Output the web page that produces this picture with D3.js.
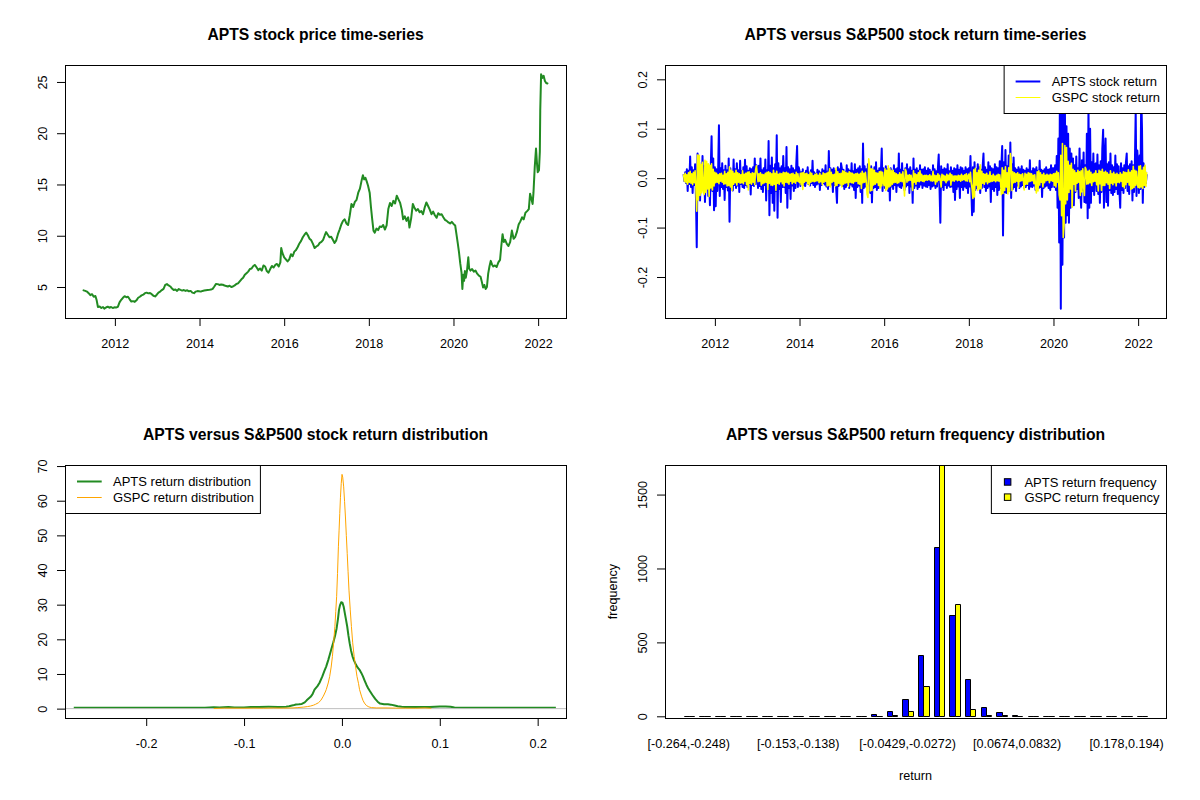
<!DOCTYPE html>
<html lang="en">
<head>
  <meta charset="UTF-8">
  <title>APTS versus S&amp;P500</title>
  <script src="https://d3js.org/d3.v7.min.js"></script>
  <style>
    body { margin: 0; background: #fff; }
    svg { display: block; background: #fff; }
  </style>
</head>
<body>
  <script>
    const FONT = '"Liberation Sans", Arial, Helvetica, sans-serif';

    // ---------- data ----------
    // APTS closing price, [decimal year, price]
    const aptsPrice = [
      [2011.26,4.67],[2011.30,4.62],[2011.34,4.55],[2011.38,4.40],[2011.42,4.20],[2011.46,4.30],[2011.50,4.05],
      [2011.54,4.12],[2011.57,3.70],[2011.60,3.05],[2011.64,3.10],[2011.68,2.95],[2011.72,3.05],[2011.75,2.89],
      [2011.79,3.00],[2011.83,3.08],[2011.87,2.98],[2011.91,3.05],[2011.95,2.95],[2011.99,3.02],[2012.03,3.00],
      [2012.07,3.06],[2012.11,3.50],[2012.15,3.75],[2012.19,3.95],[2012.23,4.10],[2012.27,4.00],[2012.31,4.05],
      [2012.35,3.80],[2012.39,3.58],[2012.43,3.62],[2012.47,3.55],[2012.51,3.70],[2012.55,3.95],[2012.59,4.05],
      [2012.63,4.18],[2012.67,4.25],[2012.71,4.40],[2012.75,4.45],[2012.79,4.38],[2012.83,4.42],[2012.87,4.30],
      [2012.91,4.15],[2012.95,4.08],[2012.99,4.25],[2013.03,4.45],[2013.07,4.55],[2013.11,4.70],[2013.15,4.82],
      [2013.19,5.20],[2013.23,5.28],[2013.27,5.15],[2013.31,5.05],[2013.35,4.85],[2013.39,4.70],[2013.43,4.75],
      [2013.47,4.62],[2013.51,4.80],[2013.55,4.72],[2013.59,4.65],[2013.63,4.70],[2013.67,4.62],[2013.71,4.68],
      [2013.75,4.58],[2013.79,4.62],[2013.83,4.45],[2013.87,4.40],[2013.91,4.55],[2013.95,4.60],[2013.99,4.58],
      [2014.03,4.55],[2014.07,4.62],[2014.11,4.65],[2014.15,4.68],[2014.19,4.70],[2014.23,4.72],[2014.27,4.75],
      [2014.31,4.82],[2014.35,5.05],[2014.39,5.30],[2014.43,5.28],[2014.47,5.20],[2014.51,5.25],[2014.55,5.22],
      [2014.59,5.15],[2014.63,5.10],[2014.67,5.05],[2014.71,5.12],[2014.75,5.00],[2014.79,5.05],[2014.83,5.15],
      [2014.87,5.30],[2014.91,5.35],[2014.95,5.55],[2014.99,5.75],[2015.03,5.90],[2015.07,6.20],[2015.11,6.35],
      [2015.15,6.50],[2015.19,6.75],[2015.23,6.80],[2015.27,7.05],[2015.31,7.15],[2015.35,6.90],[2015.39,6.65],
      [2015.43,6.80],[2015.47,6.60],[2015.51,7.10],[2015.55,7.00],[2015.59,6.55],[2015.63,6.40],[2015.67,6.75],
      [2015.71,7.05],[2015.75,6.90],[2015.79,7.15],[2015.83,7.25],[2015.87,7.00],[2015.91,7.40],[2015.93,8.80],
      [2015.96,8.30],[2016.00,7.90],[2016.04,7.70],[2016.08,7.50],[2016.12,7.70],[2016.16,8.20],[2016.20,8.00],
      [2016.24,8.45],[2016.28,8.60],[2016.32,8.90],[2016.36,9.25],[2016.40,9.50],[2016.44,9.85],[2016.48,10.10],
      [2016.52,10.30],[2016.56,10.05],[2016.60,9.70],[2016.64,9.55],[2016.68,9.20],[2016.72,8.80],[2016.76,8.95],
      [2016.80,9.05],[2016.84,9.30],[2016.88,9.40],[2016.92,9.60],[2016.96,10.05],[2016.99,10.35],[2017.03,10.10],
      [2017.07,9.85],[2017.11,9.90],[2017.15,9.60],[2017.19,9.30],[2017.23,9.55],[2017.27,10.15],[2017.31,10.60],
      [2017.35,11.10],[2017.39,11.45],[2017.43,11.60],[2017.47,11.20],[2017.51,11.05],[2017.55,12.00],[2017.59,13.10],
      [2017.63,12.80],[2017.67,13.30],[2017.71,13.50],[2017.75,14.20],[2017.79,14.60],[2017.83,15.40],[2017.86,15.90],
      [2017.89,15.50],[2017.92,15.65],[2017.95,15.30],[2017.98,14.90],[2018.02,14.20],[2018.05,12.80],[2018.08,11.60],
      [2018.11,10.50],[2018.14,10.30],[2018.18,10.70],[2018.22,10.55],[2018.26,10.90],[2018.30,10.85],[2018.34,11.05],
      [2018.38,10.60],[2018.42,11.00],[2018.46,12.60],[2018.50,13.20],[2018.54,12.90],[2018.58,13.40],[2018.62,13.15],
      [2018.66,13.90],[2018.70,13.55],[2018.74,13.20],[2018.78,12.50],[2018.81,11.60],[2018.85,11.90],[2018.89,11.45],
      [2018.93,11.80],[2018.96,10.80],[2019.00,11.70],[2019.04,13.10],[2019.08,12.70],[2019.12,12.45],[2019.16,12.60],
      [2019.20,12.30],[2019.24,12.40],[2019.28,12.10],[2019.32,12.75],[2019.36,13.25],[2019.40,12.90],[2019.44,12.55],
      [2019.48,12.10],[2019.52,12.35],[2019.56,12.00],[2019.60,11.75],[2019.64,12.20],[2019.68,12.05],[2019.72,12.10],
      [2019.76,11.80],[2019.80,11.55],[2019.84,11.45],[2019.88,11.30],[2019.92,11.20],[2019.96,11.35],[2020.00,11.15],
      [2020.04,11.00],[2020.07,10.15],[2020.10,9.30],[2020.13,8.40],[2020.16,7.30],[2020.19,6.40],[2020.21,4.80],
      [2020.23,6.20],[2020.25,5.60],[2020.27,6.55],[2020.29,5.90],[2020.32,6.60],[2020.35,7.90],[2020.37,6.80],
      [2020.40,6.60],[2020.44,6.75],[2020.48,6.50],[2020.52,6.60],[2020.56,6.30],[2020.60,6.10],[2020.64,6.00],
      [2020.67,5.50],[2020.70,4.95],[2020.73,5.20],[2020.76,4.80],[2020.79,5.00],[2020.82,6.30],[2020.85,7.00],
      [2020.88,7.55],[2020.91,7.20],[2020.94,7.00],[2020.98,7.10],[2021.02,6.95],[2021.06,7.40],[2021.10,7.65],
      [2021.13,9.00],[2021.16,10.15],[2021.19,9.40],[2021.22,9.60],[2021.26,9.20],[2021.30,9.00],[2021.34,9.40],
      [2021.38,10.50],[2021.42,9.70],[2021.46,9.90],[2021.50,10.40],[2021.54,11.10],[2021.58,11.40],[2021.62,11.80],
      [2021.66,11.60],[2021.70,12.25],[2021.74,12.40],[2021.78,12.60],[2021.81,14.10],[2021.84,13.60],[2021.87,13.10],
      [2021.89,14.20],[2021.92,16.70],[2021.95,18.50],[2021.97,17.20],[2021.99,16.20],[2022.02,16.40],[2022.04,18.20],
      [2022.05,22.20],[2022.07,25.74],[2022.10,25.40],[2022.13,25.60],[2022.16,25.10],[2022.19,24.90],[2022.22,24.85]
    ];

    // weekly returns in percent, one row per calendar year (first and last rows are partial years)
    const retYears = [2011, 2012, 2013, 2014, 2015, 2016, 2017, 2018, 2019, 2020, 2021, 2022];
    const retStart = 2011.26, retEnd = 2022.22;
    const aptsReturns = [
      [0.8,-0.6,1.2,-1.0,1.8,-2.6,1.5,-1.2,4.4,-1.8,2.2,-3.0,1.6,-1.4,2.8,-3.4,-14.0,5.0,-2.5,3.2,-4.5,1.8,-2.4,4.5,-1.6,2.4,-4.8,2.0,-1.5,2.6,-3.6,1.8,-5.5,2.2,8.5,-2.6,4.0,-6.5],
      [2.2,-5.7,1.8,-2.6,1.4,10.7,-3.6,2.0,-1.8,3.0,-2.2,1.6,-4.4,2.5,-1.8,1.6,-2.5,4.0,-8.8,2.0,-1.5,1.2,-2.5,3.8,-1.4,1.8,-2.0,3.0,-1.5,1.6,-2.8,3.5,-1.2,1.4,-1.8,2.2,-2.0,3.7,-1.4,2.4,-1.8,1.5,-1.2,2.0,-3.3,1.8,-1.4,2.2,-1.6,4.0,-1.2,2.6],
      [1.8,-2.0,2.5,-1.6,4.0,-2.2,1.6,-2.8,2.0,-1.4,3.8,-4.5,1.6,-2.0,7.5,-7.5,2.5,-3.0,4.2,-5.0,2.0,-6.6,2.8,-2.6,8.7,-8.0,3.0,-2.2,2.0,-4.8,2.4,-1.8,4.5,-1.8,2.0,-3.0,6.3,-6.0,2.2,-2.0,1.8,-4.2,2.5,-1.5,2.0,-2.6,1.6,-2.0,2.8,6.5,-1.8,2.2],
      [1.4,-1.6,1.2,-1.1,1.8,-1.4,1.0,-1.6,1.5,-0.9,2.2,-1.2,1.1,-1.5,1.6,-1.0,3.5,-1.4,1.2,-1.8,0.9,-1.3,1.7,-1.1,1.4,-2.4,1.1,-1.4,1.8,-1.0,1.5,-1.3,2.6,-1.7,1.3,-2.2,5.5,-1.5,2.0,-1.3,1.7,-2.8,2.0,-1.4,1.5,-2.0,-5.0,2.2,-1.6,1.8,-1.3,3.0],
      [2.0,-1.6,1.7,-2.2,1.3,-1.8,2.6,-1.4,1.8,-2.0,1.5,-1.3,3.0,-1.7,1.4,-2.4,2.8,-4.0,1.7,-1.8,2.0,-1.5,2.4,-2.8,1.8,-5.0,7.0,-2.0,2.4,-1.7,1.8,-2.2,2.8,-1.5,2.0,-3.0,2.4,-4.9,1.7,-2.0,2.2,-1.8,3.2,-2.4,1.5,-2.0,2.0,-1.7,1.4,6.0,-2.6,2.0],
      [1.7,-2.0,2.4,-1.5,1.8,-2.6,1.4,-4.5,2.0,-1.7,1.5,-2.2,2.6,-1.4,1.8,-2.8,2.0,-1.5,5.0,-1.8,1.7,-2.0,3.0,-1.5,1.4,-2.4,2.0,-1.7,2.8,-1.4,1.8,-3.0,2.2,-1.7,1.5,-5.0,4.0,-2.0,1.7,-1.5,2.0,-2.2,1.5,-1.8,2.6,-1.3,1.7,-2.0,1.8,-1.5,2.2,-1.7],
      [1.5,-1.8,2.0,-1.4,1.7,-2.2,1.3,-1.7,2.6,-1.5,1.8,-2.0,1.4,-1.7,2.0,4.8,-2.2,-9.0,2.4,-1.8,1.7,-2.4,2.0,-1.4,1.8,-2.0,2.8,-1.5,1.4,-1.8,2.2,-1.7,1.5,-2.8,2.0,-4.4,1.8,-2.2,2.6,-1.7,1.7,-4.0,2.2,-1.8,2.0,-2.4,1.5,-1.7,2.2,-2.0,1.8,-3.0],
      [2.0,-1.7,4.5,-2.0,-7.5,2.2,-6.8,3.2,-2.4,1.8,-2.0,2.8,-1.5,2.2,-3.0,1.7,-2.0,2.4,5.0,-1.8,2.2,-2.6,1.7,-2.0,3.2,-1.7,2.4,-4.8,2.0,-2.2,1.8,-2.6,2.8,-1.8,2.2,-3.4,2.0,-2.4,3.4,-2.0,2.6,6.5,-11.6,3.2,-2.8,5.7,-3.0,2.4,-2.0,4.6,-2.6,7.2],
      [-4.0,2.8,-2.2,4.2,-1.8,2.0,-2.6,1.7,-1.5,2.2,-2.0,1.8,-1.7,2.4,-1.4,1.7,-2.0,1.5,-1.8,2.0,-1.4,1.7,-2.2,3.6,-1.7,1.4,-1.8,2.0,-1.5,1.8,-2.4,2.2,-1.7,1.5,-2.0,3.5,-1.8,1.7,-3.8,1.5,-2.0,1.8,-1.7,2.2,-1.5,1.7,-2.0,1.8,-2.4,2.6,-1.8,2.0],
      [2.0,-1.8,2.6,-2.4,4.5,-6.0,8.0,-13.0,21.0,-26.4,14.0,-17.5,13.5,-12.0,15.0,-9.0,10.5,-7.5,9.0,-9.0,6.0,-6.0,5.0,-3.5,4.0,-5.5,2.6,-2.8,4.4,-2.2,2.0,-4.0,6.0,-2.6,-6.0,3.6,-2.4,5.2,-4.8,2.6,-5.0,9.0,-8.1,14.0,-6.0,10.0,-5.0,3.2,-2.6,5.0,-3.4,2.8],
      [3.0,-2.6,4.8,-3.2,2.6,-5.0,3.4,-2.8,6.0,9.8,-6.0,3.6,8.0,-4.8,2.8,-5.6,3.2,-2.4,5.0,-3.0,2.6,-3.4,2.2,-2.8,4.6,-2.2,2.8,-3.2,2.4,-2.6,-6.0,3.0,-2.4,2.0,-3.0,2.6,-2.0,3.2,5.0,-2.6,2.4,-3.2,2.8,-2.0,3.4,-4.5,2.6,-2.8,3.0,13.5,-3.6,5.6],
      [2.4,-3.0,4.6,-2.2,17.0,10.0,-5.0,3.0,-1.8,1.4,-1.0,0.8]
    ];
    const gspcReturns = [
      [0.8,-0.6,1.0,-0.9,0.7,-1.2,1.1,-0.8,1.4,-1.0,0.9,-1.3,1.2,-0.9,1.5,-2.0,-6.7,4.7,-4.4,4.6,-3.5,2.8,-3.0,3.2,-2.5,-3.3,3.6,-2.9,3.4,-2.2,2.9,-3.7,2.6,-2.0,2.9,-2.4,1.8,-1.6],
      [1.2,-0.9,1.0,-0.8,0.7,-1.1,0.9,-0.6,1.0,-0.8,0.6,-1.2,1.4,-1.1,0.9,-1.6,1.2,-1.5,2.3,-1.8,1.6,-2.5,1.4,-1.2,1.0,-0.9,1.6,-1.4,1.1,-0.8,0.9,-1.0,0.7,-0.9,1.5,-1.1,0.8,-0.6,1.0,-1.3,1.2,-2.4,1.3,-1.0,0.9,-1.2,1.1,-0.8,1.0,-1.3,1.6,2.5],
      [1.0,-0.7,0.9,-0.6,1.1,-1.4,0.8,-1.1,0.7,-0.9,1.0,-0.8,1.2,-2.3,1.3,-1.0,1.1,-1.4,0.9,-1.5,1.6,-1.2,1.0,-2.5,1.4,-1.0,0.8,-1.2,1.0,-0.7,0.9,-1.1,1.2,-1.6,1.1,-0.8,1.2,-0.9,1.0,-1.2,0.8,-0.6,0.9,-1.1,1.0,-0.8,0.7,-1.0,1.2,-0.6,0.9,-0.7],
      [-0.9,1.0,-1.3,1.1,-2.3,1.2,-0.8,0.9,-0.6,1.0,-1.1,0.7,-1.4,1.2,-0.8,1.0,-0.6,0.5,-0.7,0.8,-0.6,0.9,-0.5,0.6,-0.9,1.0,-0.7,0.6,-1.3,1.1,-0.8,0.9,-0.6,1.0,-1.6,1.2,-1.5,1.9,-1.8,1.2,-0.8,0.7,-0.6,0.8,-1.6,2.0,-1.5,1.3,-1.0,0.9,-1.2,1.0],
      [-1.8,1.5,-1.2,1.4,-1.0,1.2,-0.9,1.0,-1.7,1.3,-0.8,1.1,-0.9,1.0,-1.0,0.8,-0.7,0.9,-0.6,1.0,-1.1,0.8,-1.2,1.0,-2.1,1.4,-0.9,1.0,-0.8,1.2,-0.7,-3.2,-3.9,3.9,2.4,-2.6,1.9,-2.5,1.8,-1.4,1.6,-1.2,1.1,-0.9,1.0,-1.5,1.3,-2.0,1.4,-1.6,1.2,-1.0],
      [-1.5,1.9,-2.5,1.6,-2.2,2.5,-1.8,1.9,-1.6,1.5,-1.2,1.6,-0.9,1.1,-0.8,0.9,-1.0,0.7,-0.9,1.1,-0.6,0.8,-0.7,1.3,-1.0,-3.6,1.8,1.4,-0.8,0.6,-0.5,0.7,-0.4,0.6,-0.5,-2.5,1.5,-0.8,0.9,-1.2,0.7,-0.6,1.1,-0.7,1.5,-0.5,0.8,-0.6,0.5,-0.7,0.6,-0.4],
      [0.6,-0.4,0.5,-0.3,0.7,-0.5,0.4,-0.6,1.4,-0.5,0.6,-1.2,0.5,-0.7,0.9,-0.4,0.6,-0.5,-1.8,0.8,-0.4,0.6,-0.5,0.4,-0.9,0.8,-0.5,0.6,-0.3,1.0,-1.4,0.7,-0.5,0.4,-0.6,0.5,-0.3,0.4,-0.5,0.6,-0.4,0.5,-0.6,0.8,-0.4,0.5,-0.3,0.7,-0.5,0.9,-0.6,0.4],
      [0.8,-0.7,1.2,-1.0,-2.1,-4.1,1.7,-3.8,2.0,-1.4,1.1,-2.5,1.6,-2.2,2.7,-2.2,1.4,-1.0,0.9,-1.2,0.8,-0.7,1.0,-1.1,0.6,-0.8,1.3,-0.7,0.5,-0.6,0.8,-0.5,0.4,-0.7,0.6,-0.5,0.8,-0.6,0.7,-1.0,-3.3,2.1,-3.1,1.6,-2.5,2.3,-1.8,1.1,-3.2,2.1,-2.7,5.0],
      [3.4,-2.5,1.3,-0.9,1.1,-0.8,0.9,-0.6,1.1,-1.9,0.8,-0.6,0.7,-0.5,0.9,-0.4,-2.4,1.0,-1.2,0.8,-1.2,1.1,-0.7,1.0,-0.6,0.9,-0.5,0.6,-1.1,0.7,-1.7,-3.0,1.3,-2.6,1.5,-1.4,1.1,-0.8,0.7,-1.8,1.0,-0.9,0.6,-0.5,0.8,-0.4,0.6,-0.9,0.8,-0.5,0.7,-0.6],
      [0.9,-1.5,1.0,-1.8,1.4,-0.8,1.1,-3.4,-4.4,4.6,-7.6,7.0,-12.0,-9.5,6.6,-5.2,6.2,-4.4,3.4,-2.9,2.6,-2.2,3.0,-5.9,1.8,-1.2,1.5,-2.6,1.1,-1.0,1.6,-0.8,1.3,-3.5,1.5,-2.8,1.9,-1.7,-3.5,2.2,1.8,-1.2,1.4,-1.1,1.6,-0.9,1.2,-1.5,0.8,-0.7,1.0,-0.6],
      [1.5,-1.3,0.9,-2.6,1.6,-1.1,1.4,-2.5,1.8,-1.5,1.2,-1.5,1.4,-0.9,1.1,-1.2,0.8,-2.1,1.5,-1.0,0.9,-1.3,1.2,-0.9,0.8,-1.6,1.0,-0.8,0.7,-0.9,1.1,-0.6,0.8,-1.7,1.3,-2.0,1.2,-1.3,1.1,-0.8,1.7,-1.4,1.2,-2.3,1.5,-2.1,2.4,-1.9,1.6,-1.5,1.4,-1.1],
      [-1.9,2.4,-2.0,2.5,-1.8,1.6,-2.1,2.2,-1.5,2.6,-1.7,1.2]
    ];

    // kernel density estimates of daily returns, [return, density]
    const aptsDensity = [
      [-0.274,0.25],[-0.25,0.25],[-0.22,0.25],[-0.19,0.25],[-0.16,0.25],[-0.14,0.28],[-0.131,0.40],[-0.125,0.30],
      [-0.116,0.50],[-0.11,0.32],[-0.10,0.35],[-0.093,0.45],[-0.085,0.50],[-0.075,0.52],[-0.065,0.50],[-0.057,0.55],
      [-0.054,0.70],[-0.050,0.95],[-0.047,1.20],[-0.044,1.25],[-0.041,1.35],[-0.038,1.80],[-0.036,2.40],[-0.034,2.90],
      [-0.032,3.40],[-0.030,4.20],[-0.028,5.50],[-0.025,6.50],[-0.023,7.40],[-0.020,9.30],[-0.018,10.8],[-0.016,12.2],
      [-0.014,14.0],[-0.0125,15.5],[-0.011,17.0],[-0.009,18.9],[-0.007,21.0],[-0.0054,23.2],[-0.004,26.0],[-0.003,28.5],
      [-0.002,29.8],[-0.0007,30.7],[0.0005,30.6],[0.0018,29.4],[0.003,27.5],[0.0042,25.6],[0.0054,23.7],[0.0066,21.2],
      [0.0079,18.9],[0.0093,16.8],[0.0108,15.1],[0.0125,13.8],[0.0143,12.7],[0.016,11.9],[0.018,11.2],[0.0198,10.3],
      [0.0215,9.3],[0.0232,8.1],[0.025,6.9],[0.0268,5.9],[0.0287,5.0],[0.031,4.0],[0.034,2.8],[0.0365,2.0],
      [0.039,1.45],[0.043,1.25],[0.047,1.25],[0.050,1.15],[0.054,0.90],[0.057,0.70],[0.061,0.55],[0.0645,0.45],
      [0.07,0.48],[0.08,0.45],[0.0896,0.45],[0.095,0.55],[0.10,0.60],[0.106,0.60],[0.111,0.55],[0.115,0.35],
      [0.125,0.28],[0.15,0.25],[0.18,0.25],[0.2186,0.25]
    ];
    const gspcDensity = [
      [-0.131,0.05],[-0.12,0.15],[-0.10,0.12],[-0.09,0.15],[-0.08,0.12],[-0.07,0.18],[-0.06,0.15],[-0.05,0.20],
      [-0.045,0.30],[-0.039,0.45],[-0.035,0.60],[-0.032,0.75],[-0.029,1.00],[-0.027,1.25],[-0.024,1.70],[-0.0215,2.40],
      [-0.019,3.60],[-0.017,4.80],[-0.016,5.50],[-0.014,7.40],[-0.0125,9.30],[-0.011,12.0],[-0.0097,15.1],[-0.0085,19.0],
      [-0.0072,23.7],[-0.0063,28.0],[-0.0054,32.3],[-0.0045,39.0],[-0.0036,46.7],[-0.0029,51.5],[-0.0022,56.3],[-0.0015,61.0],
      [-0.0007,65.0],[0.0001,67.6],[0.0008,66.8],[0.0018,64.0],[0.0027,59.8],[0.0036,55.3],[0.0045,50.0],[0.0054,44.8],
      [0.0063,39.5],[0.0072,34.2],[0.0085,28.5],[0.0097,23.7],[0.011,19.0],[0.0125,15.1],[0.014,12.0],[0.0154,9.3],
      [0.017,7.2],[0.018,5.5],[0.020,3.6],[0.0215,2.4],[0.023,1.6],[0.025,0.9],[0.0275,0.5],[0.030,0.3],
      [0.035,0.2],[0.045,0.2],[0.055,0.15],[0.065,0.15],[0.075,0.12],[0.085,0.2],[0.0914,0.1]
    ];

    // return frequency table
    const binLabels = [
      "[-0.264,-0.248)","[-0.248,-0.232)","[-0.232,-0.217)","[-0.217,-0.201)","[-0.201,-0.185)",
      "[-0.185,-0.169)","[-0.169,-0.153)","[-0.153,-0.138)","[-0.138,-0.122)","[-0.122,-0.106)",
      "[-0.106,-0.0902)","[-0.0902,-0.0744)","[-0.0744,-0.0587)","[-0.0587,-0.0429)","[-0.0429,-0.0272)",
      "[-0.0272,-0.0114)","[-0.0114,0.00439)","[0.00439,0.0202)","[0.0202,0.0359)","[0.0359,0.0517)",
      "[0.0517,0.0674)","[0.0674,0.0832)","[0.0832,0.0989)","[0.0989,0.115)","[0.115,0.131)",
      "[0.131,0.146)","[0.146,0.162)","[0.162,0.178)","[0.178,0.194)","[0.194,0.21]"
    ];
    const aptsFreq = [1,0,0,0,0,1,0,1,4,4,4,5,16,36,117,414,1144,685,251,62,27,6,5,5,1,4,4,1,1,1];
    const gspcFreq = [0,0,0,0,0,0,0,0,1,1,1,1,5,8,36,205,1715,757,47,9,7,2,4,1,0,0,0,0,0,0];
    const binLabelEvery = 7;

    // axis ticks
    const yearTicks = [2012, 2014, 2016, 2018, 2020, 2022];
    const priceTicks = [5, 10, 15, 20, 25];
    const returnTicks = [-0.2, -0.1, 0, 0.1, 0.2];
    const densityTicks = [0, 10, 20, 30, 40, 50, 60, 70];
    const freqTicks = [0, 500, 1000, 1500];
    const freqMax = 1700;

    // ---------- layout helpers (R style 2x2 panels) ----------
    const svg = d3.select("body").append("svg").attr("width", 1200).attr("height", 800);
    const defs = svg.append("defs");

    // R extends a data range by 4% on each side
    const rpad = ([lo, hi]) => [lo - 0.04 * (hi - lo), hi + 0.04 * (hi - lo)];
    const fmt1 = d => d.toFixed(1);

    function makePanel(col, row, title) {
      const ox = col * 600, oy = row * 400;
      const p = { left: ox + 65, right: ox + 566, top: oy + 65, bottom: oy + 318 };
      const id = `clip-${col}-${row}`;
      defs.append("clipPath").attr("id", id).append("rect")
        .attr("x", p.left).attr("y", p.top)
        .attr("width", p.right - p.left).attr("height", p.bottom - p.top);
      p.plot = svg.append("g").attr("clip-path", `url(#${id})`);
      p.front = svg.append("g");
      p.front.append("text")
        .attr("x", (p.left + p.right) / 2).attr("y", p.top - 25.5)
        .attr("text-anchor", "middle")
        .attr("font-family", FONT).attr("font-size", 15.7).attr("font-weight", "bold")
        .text(title);
      return p;
    }

    function drawBox(p) {
      p.front.append("rect")
        .attr("x", p.left + 0.5).attr("y", p.top + 0.5)
        .attr("width", p.right - p.left).attr("height", p.bottom - p.top)
        .attr("fill", "none").attr("stroke", "#000").attr("stroke-width", 1);
    }

    function xAxis(p, scale, ticks, format) {
      const g = p.front.append("g").attr("transform", `translate(0,${p.bottom})`)
        .call(d3.axisBottom(scale).tickValues(ticks).tickFormat(format).tickSize(8));
      g.select(".domain").remove();
      g.attr("font-size", 12.6).attr("font-family", FONT);
      g.selectAll("text").attr("y", 30).attr("dy", null);
      return g;
    }

    function yAxis(p, scale, ticks, format) {
      const g = p.front.append("g").attr("transform", `translate(${p.left},0)`)
        .call(d3.axisLeft(scale).tickValues(ticks).tickFormat(format).tickSize(8));
      g.select(".domain").remove();
      g.attr("font-size", 12.6).attr("font-family", FONT).attr("text-anchor", "middle");
      g.selectAll("text").attr("transform", "rotate(-90)").attr("x", 0).attr("y", -18).attr("dy", null);
      return g;
    }

    function lineLegend(p, side, items) {
      const g = p.front.append("g").attr("font-family", FONT).attr("font-size", 13);
      const box = g.append("rect").attr("fill", "#fff").attr("stroke", "#000");
      const texts = items.map(d => g.append("text").text(d.label));
      const tw = d3.max(texts, t => t.node().getComputedTextLength());
      const w = tw + 54;
      const left = side === "right" ? p.right - w : p.left;
      box.attr("x", left + 0.5).attr("y", p.top + 0.5).attr("width", w).attr("height", 48);
      items.forEach((d, i) => {
        const cy = p.top + 16.5 + i * 16;
        g.append("line")
          .attr("x1", left + 12).attr("x2", left + 36.7).attr("y1", cy).attr("y2", cy)
          .attr("stroke", d.color).attr("stroke-width", d.width);
        texts[i].attr("x", left + 48).attr("y", cy + 4.6);
      });
    }

    function fillLegend(p, items) {
      const g = p.front.append("g").attr("font-family", FONT).attr("font-size", 13);
      const box = g.append("rect").attr("fill", "#fff").attr("stroke", "#000");
      const texts = items.map(d => g.append("text").text(d.label));
      const tw = d3.max(texts, t => t.node().getComputedTextLength());
      const w = tw + 40;
      const left = p.right - w;
      box.attr("x", left + 0.5).attr("y", p.top + 0.5).attr("width", w).attr("height", 48);
      items.forEach((d, i) => {
        const cy = p.top + 16.7 + i * 15.2;
        g.append("rect")
          .attr("x", left + 13.5).attr("y", cy - 3).attr("width", 6.5).attr("height", 6.5)
          .attr("fill", d.color).attr("stroke", "#000");
        texts[i].attr("x", left + 33.5).attr("y", cy + 4.8);
      });
    }

    // ---------- panel 1: price ----------
    const p1 = makePanel(0, 0, "APTS stock price time-series");
    const x1 = d3.scaleLinear().domain(rpad([retStart, retEnd])).range([p1.left, p1.right]);
    const y1 = d3.scaleLinear().domain(rpad(d3.extent(aptsPrice, d => d[1]))).range([p1.bottom, p1.top]);
    p1.plot.append("path")
      .datum(aptsPrice)
      .attr("fill", "none").attr("stroke", "#228B22").attr("stroke-width", 2)
      .attr("stroke-linejoin", "round").attr("stroke-linecap", "round")
      .attr("d", d3.line().x(d => x1(d[0])).y(d => y1(d[1])));
    drawBox(p1);
    xAxis(p1, x1, yearTicks, d => String(d));
    yAxis(p1, y1, priceTicks, d => String(d));

    // ---------- panel 2: returns ----------
    function retPoints(rows) {
      const pts = [];
      rows.forEach((vals, k) => {
        const s = k === 0 ? retStart : retYears[k];
        const e = k === rows.length - 1 ? retEnd : retYears[k] + 1;
        vals.forEach((v, j) => pts.push([s + j * (e - s) / vals.length, v / 100]));
      });
      return pts;
    }
    const aptsRetPts = retPoints(aptsReturns);
    const gspcRetPts = retPoints(gspcReturns);

    const p2 = makePanel(1, 0, "APTS versus S&P500 stock return time-series");
    const x2 = d3.scaleLinear().domain(rpad([retStart, retEnd])).range([p2.left, p2.right]);
    const y2 = d3.scaleLinear()
      .domain(rpad(d3.extent(aptsRetPts.concat(gspcRetPts), d => d[1])))
      .range([p2.bottom, p2.top]);
    const line2 = d3.line().x(d => x2(d[0])).y(d => y2(d[1]));
    p2.plot.append("path").datum(aptsRetPts)
      .attr("fill", "none").attr("stroke", "#0000FF").attr("stroke-width", 2)
      .attr("stroke-linejoin", "round").attr("d", line2);
    // daily series is dense, so the weekly yellow trace is drawn slightly wider
    p2.plot.append("path").datum(gspcRetPts)
      .attr("fill", "none").attr("stroke", "#FFFF00").attr("stroke-width", 1.6)
      .attr("stroke-linejoin", "round").attr("d", line2);
    drawBox(p2);
    xAxis(p2, x2, yearTicks, d => String(d));
    yAxis(p2, y2, returnTicks, fmt1);
    lineLegend(p2, "right", [
      { label: "APTS stock return", color: "#0000FF", width: 2 },
      { label: "GSPC stock return", color: "#FFFF00", width: 1 }
    ]);

    // ---------- panel 3: density ----------
    const p3 = makePanel(0, 1, "APTS versus S&P500 stock return distribution");
    const x3 = d3.scaleLinear().domain(rpad(d3.extent(aptsRetPts, d => d[1]))).range([p3.left, p3.right]);
    const y3 = d3.scaleLinear().domain(rpad([0, d3.max(gspcDensity, d => d[1])])).range([p3.bottom, p3.top]);
    const line3 = d3.line().x(d => x3(d[0])).y(d => y3(d[1]));
    p3.plot.append("path").datum(aptsDensity)
      .attr("fill", "none").attr("stroke", "#228B22").attr("stroke-width", 2)
      .attr("stroke-linejoin", "round").attr("d", line3);
    p3.plot.append("line")
      .attr("x1", p3.left).attr("x2", p3.right)
      .attr("y1", y3(0)).attr("y2", y3(0))
      .attr("stroke", "#BEBEBE").attr("stroke-width", 1);
    p3.plot.append("path").datum(gspcDensity)
      .attr("fill", "none").attr("stroke", "#FFA500").attr("stroke-width", 1)
      .attr("stroke-linejoin", "round").attr("d", line3);
    drawBox(p3);
    xAxis(p3, x3, returnTicks, fmt1);
    yAxis(p3, y3, densityTicks, d => String(d));
    lineLegend(p3, "left", [
      { label: "APTS return distribution", color: "#228B22", width: 2 },
      { label: "GSPC return distribution", color: "#FFA500", width: 1 }
    ]);

    // ---------- panel 4: frequency bars ----------
    const p4 = makePanel(1, 1, "APTS versus S&P500 return frequency distribution");
    const series = [
      { key: "APTS", values: aptsFreq, color: "#0000FF" },
      { key: "GSPC", values: gspcFreq, color: "#FFFF00" }
    ];
    // barplot(beside = TRUE): two bars per group, one bar of space between groups
    const x4 = d3.scaleBand().domain(binLabels).range([p4.left, p4.right])
      .paddingInner(1 / 3).paddingOuter(1.1867);
    const x4s = d3.scaleBand().domain(series.map(s => s.key)).range([0, x4.bandwidth()]);
    const y4 = d3.scaleLinear().domain([0, freqMax]).range([p4.bottom - 1.7, p4.top]);

    series.forEach(s => {
      p4.plot.selectAll(null).data(s.values.map((v, i) => ({ v, label: binLabels[i] })))
        .join("path")
        .attr("d", d => {
          const x0 = Math.round(x4(d.label) + x4s(s.key)) + 0.5;
          const x1b = Math.round(x4(d.label) + x4s(s.key) + x4s.bandwidth()) + 0.5;
          const yb = Math.round(y4(0)) + 0.5, yt = Math.round(y4(d.v)) + 0.5;
          return `M${x0},${yb}V${yt}H${x1b}V${yb}Z`;
        })
        .attr("fill", s.color).attr("stroke", "#000").attr("stroke-width", 1);
    });
    drawBox(p4);
    yAxis(p4, y4, freqTicks, d => String(d));
    p4.front.append("g").attr("font-family", FONT).attr("font-size", 12.6).attr("text-anchor", "middle")
      .selectAll("text")
      .data(binLabels.filter((d, i) => i % binLabelEvery === 0))
      .join("text")
      .attr("x", d => x4(d) + x4.bandwidth() / 2)
      .attr("y", p4.bottom + 30)
      .text(d => d);
    p4.front.append("text")
      .attr("x", (p4.left + p4.right) / 2).attr("y", p4.bottom + 62)
      .attr("text-anchor", "middle").attr("font-family", FONT).attr("font-size", 12.6)
      .text("return");
    p4.front.append("text")
      .attr("transform", `translate(${p4.left - 48},${(p4.top + p4.bottom) / 2}) rotate(-90)`)
      .attr("text-anchor", "middle").attr("font-family", FONT).attr("font-size", 12.6)
      .text("frequency");
    fillLegend(p4, [
      { label: "APTS return frequency", color: "#0000FF" },
      { label: "GSPC return frequency", color: "#FFFF00" }
    ]);
  </script>
</body>
</html>
